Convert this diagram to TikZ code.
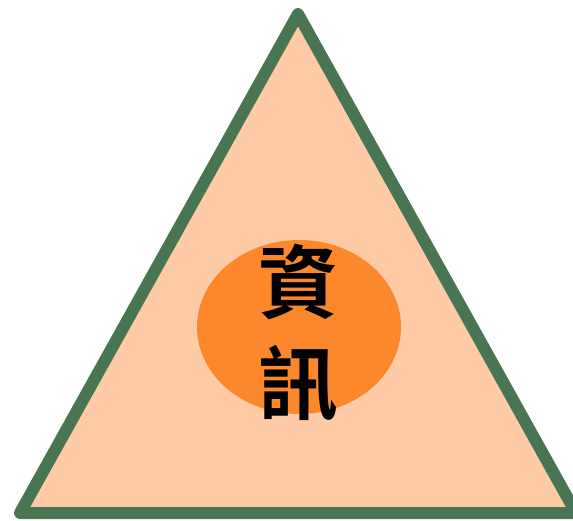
\documentclass[tikz,border=0pt]{standalone}
\usepackage{fontspec}
\usetikzlibrary{shapes.geometric}
\newfontfamily\cjk{Noto Sans CJK TC}[BoldFont={Noto Sans CJK TC Bold}]
\definecolor{tgreen}{HTML}{4A7553}
\definecolor{tpeach}{HTML}{FFCBA6}
\definecolor{torange}{HTML}{FD882C}
\tikzset{
  tri/.style={draw=tgreen, fill=tpeach, line width=12pt, line join=round},
  blob/.style={fill=torange, draw=none, ellipse, inner sep=0pt},
  glyph/.style={font=\cjk\bfseries\fontsize{80}{80}\selectfont, text=black, inner sep=0pt}
}
\begin{document}
\begin{tikzpicture}[x=1pt,y=-1pt]
\useasboundingbox (0,0) rectangle (573,520);
\coordinate (apex) at (298,14);
\coordinate (bl) at (20,513);
\coordinate (br) at (576,513);
\draw[tri] (apex) -- (bl) -- (br) -- cycle;
\node[blob, minimum width=204pt, minimum height=174pt] (e) at (299,327) {};
\node[glyph] (c1) at (298,282) {資};
\node[glyph] (c2) at (298,383) {訊};
\end{tikzpicture}
\end{document}
